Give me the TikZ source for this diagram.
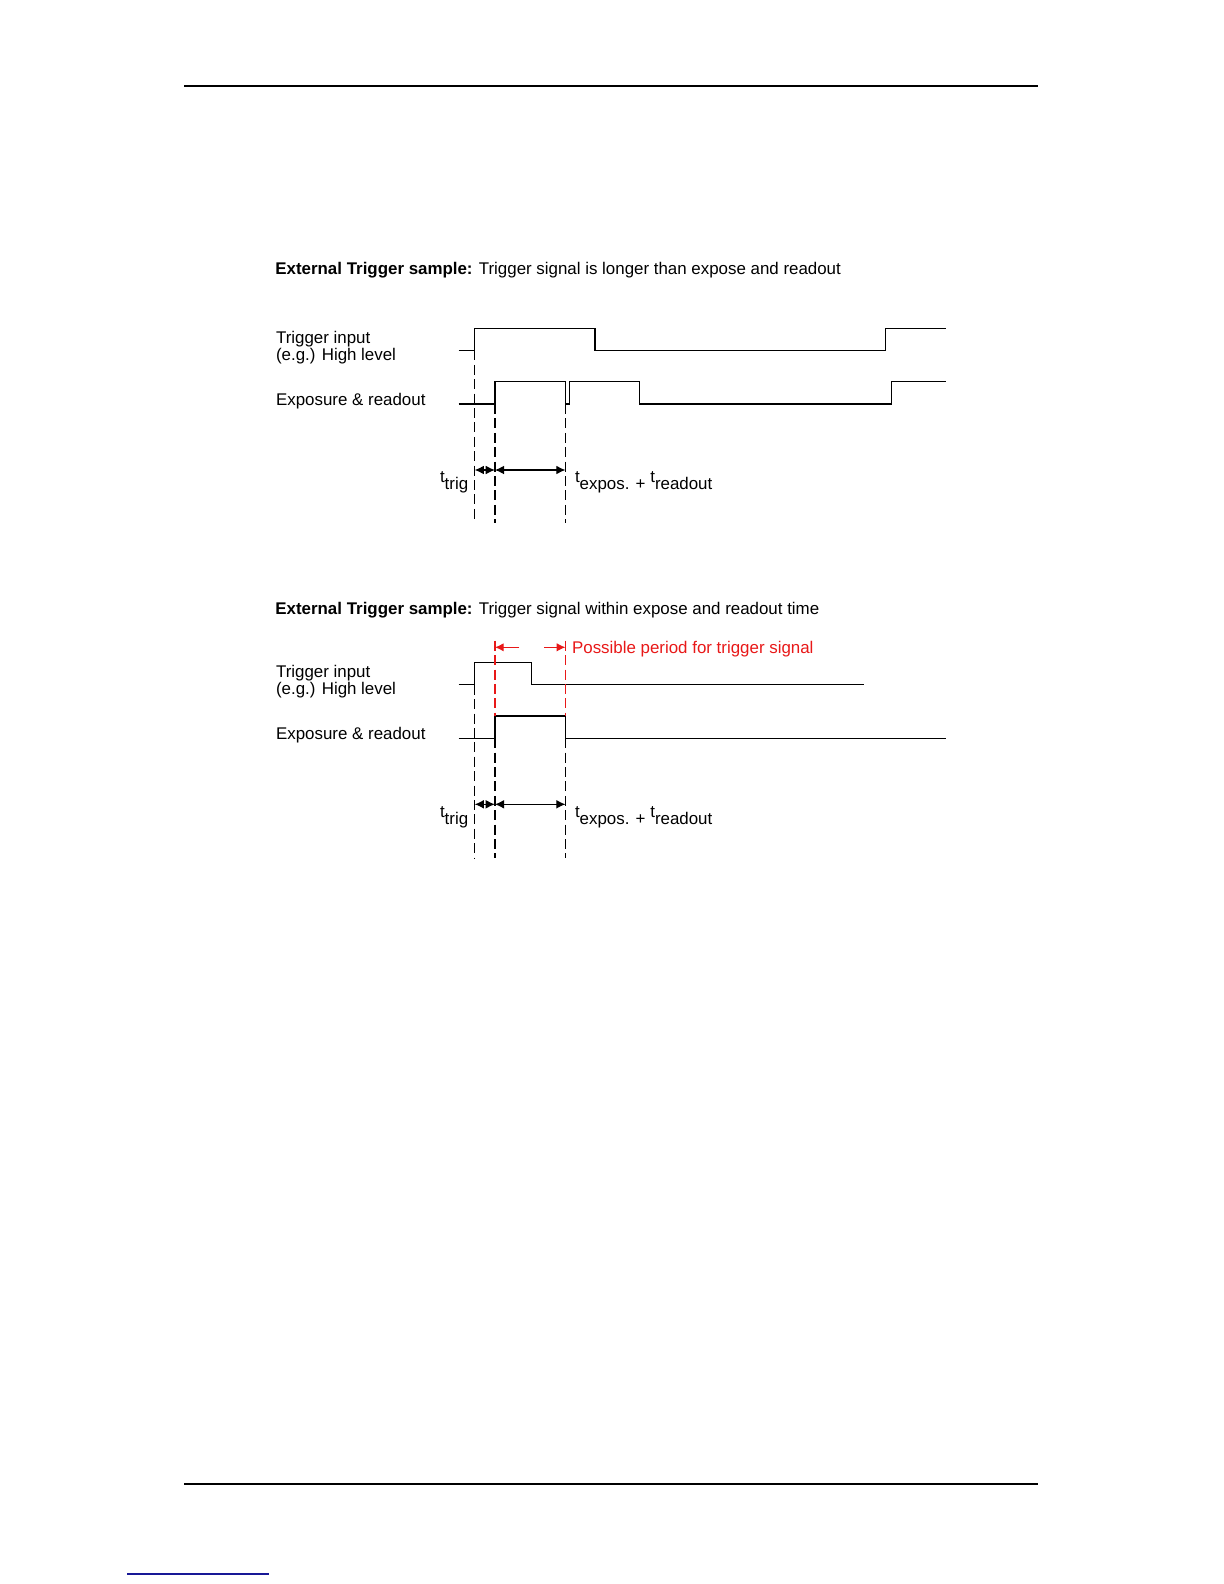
\documentclass[tikz,border=0pt]{standalone}
\usepackage{fontspec}
\setmainfont{Liberation Sans}
\usepackage{xcolor}
\usepackage{tikz}
\usetikzlibrary{arrows.meta, positioning}
\definecolor{trigred}{RGB}{232,24,24}
\definecolor{linkblue}{RGB}{24,24,150}
\tikzset{
  siglabel/.style={font=\fontsize{8.45}{10}\selectfont, anchor=base west, inner sep=0pt},
  titletext/.style={siglabel},
  sigline/.style={line width=0.7pt, line join=miter},
  guideline/.style={line width=0.6pt, dash pattern=on 5pt off 2.2pt},
  redguide/.style={guideline, trigred},
  timearrow/.style={{Latex[length=4.6pt, width=4.4pt]}-{Latex[length=4.6pt, width=4.4pt]}, line width=0.6pt},
  redarrow/.style={-{Latex[length=4.4pt, width=4.2pt]}, line width=0.6pt, trigred},
  pagerule/.style={line width=1pt}
}

\begin{document}
\begin{tikzpicture}[x=0.5pt, y=-0.5pt]
\useasboundingbox (0,0) rectangle (1224,1584);

% --- Column positions ---
\def\xlab{275.7}
\def\xstub{458.5}
\def\xtrig{474.7}
\def\xexp{494.9}
\def\xend{565.5}
\def\xright{946.3}

% --- Page rules ---
\draw[pagerule] (184,86) -- (1038,86);
\draw[pagerule] (184,1484) -- (1038,1484);
\draw[linkblue, line width=0.9pt] (127,1574) -- (269,1574);

% --- Sample 1: trigger longer than expose and readout ---
\node[titletext] (title1) at (275,274.7)
  {\textbf{External Trigger sample:} Trigger signal is longer than expose and readout};
\node[siglabel] (trig1a) at (\xlab,343.3) {Trigger input};
\node[siglabel] (trig1b) at (\xlab,360) {(e.g.) High level};
\node[siglabel] (expo1)  at (\xlab,405.3) {Exposure \& readout};

\draw[sigline] (\xstub,350.4) -- (\xtrig,350.4) |- (594.8,328.2) |- (885.7,350.4) |- (\xright,328.2);
\draw[sigline] (\xstub,404) -- (\xexp,404) |- (\xend,381.7) |- (569.6,404) |- (639.3,381.7)
  |- (891.7,404) |- (\xright,381.7);

\draw[guideline] (\xtrig,350.4) -- (\xtrig,523);
\draw[guideline] (\xexp,404) -- (\xexp,523);
\draw[guideline] (\xend,404) -- (\xend,523);

\coordinate (p1a) at (\xtrig,470);
\coordinate (p1b) at (\xexp,470);
\coordinate (p1c) at (\xend,470);
\draw[timearrow] (p1a) -- (p1b);
\draw[timearrow] (p1b) -- (p1c);

\node[siglabel, anchor=base east] (ttrig1) at (468.6,482.7) {t\raisebox{-3.5pt}{trig}};
\node[siglabel] (texp1) at (574.6,482.7) {t\raisebox{-3.5pt}{expos. + }t\raisebox{-3.5pt}{readout}};

% --- Sample 2: trigger within expose and readout time ---
\node[titletext] (title2) at (275,614.7)
  {\textbf{External Trigger sample:} Trigger signal within expose and readout time};
\node[siglabel] (trig2a) at (\xlab,677.6) {Trigger input};
\node[siglabel] (trig2b) at (\xlab,694.3) {(e.g.) High level};
\node[siglabel] (expo2)  at (\xlab,739.6) {Exposure \& readout};

\draw[sigline] (\xstub,684.7) -- (\xtrig,684.7) |- (531.2,662.5) |- (863.5,684.7);
\draw[sigline] (\xstub,738.2) -- (\xexp,738.2) |- (\xend,716) |- (\xright,738.2);

\draw[redguide] (\xexp,640.7) -- (\xexp,716);
\draw[redguide] (\xend,640.7) -- (\xend,716);
\draw[guideline] (\xtrig,684.7) -- (\xtrig,858.4);
\draw[guideline] (\xexp,738.2) -- (\xexp,858.4);
\draw[guideline] (\xend,738.2) -- (\xend,858.4);

\coordinate (r2a) at (519.3,647.3);
\coordinate (r2b) at (\xexp,647.3);
\coordinate (r2c) at (544,647.3);
\coordinate (r2d) at (\xend,647.3);
\draw[redarrow] (r2a) -- (r2b);
\draw[redarrow] (r2c) -- (r2d);
\node[siglabel, trigred] (period2) at (571.7,653.3) {Possible period for trigger signal};

\coordinate (p2a) at (\xtrig,804.3);
\coordinate (p2b) at (\xexp,804.3);
\coordinate (p2c) at (\xend,804.3);
\draw[timearrow] (p2a) -- (p2b);
\draw[timearrow] (p2b) -- (p2c);

\node[siglabel, anchor=base east] (ttrig2) at (468.6,817) {t\raisebox{-3.5pt}{trig}};
\node[siglabel] (texp2) at (574.6,817) {t\raisebox{-3.5pt}{expos. + }t\raisebox{-3.5pt}{readout}};

\end{tikzpicture}
\end{document}
